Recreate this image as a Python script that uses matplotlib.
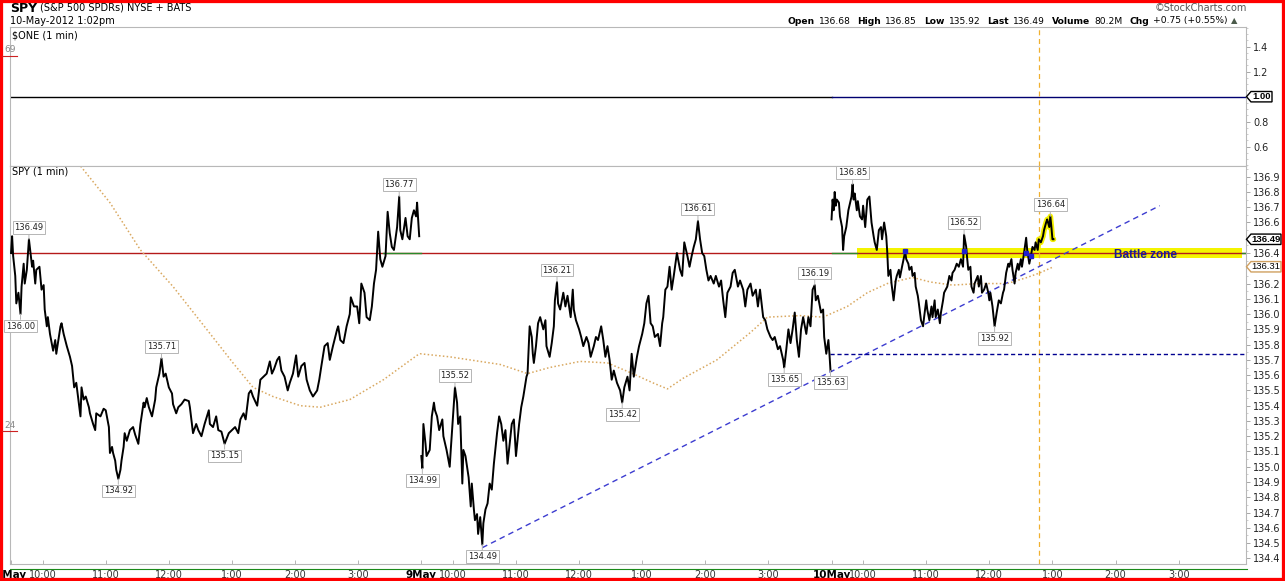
import matplotlib
matplotlib.use("Agg")
import matplotlib.pyplot as plt
from matplotlib.patches import Rectangle, Polygon
from matplotlib.lines import Line2D
from matplotlib.ticker import MultipleLocator

W, H = 1285, 581
DAY_LEN = 390  # 9:30 -> 4:00, one point per minute

# SPY 1-min closes: (minutes after 9:30, price)
may8 = [(0, 136.40), (1, 136.51), (2, 136.38), (4, 136.25), (5, 136.07), (7, 136.14), (9, 136.00),
        (10, 136.18), (12, 136.33), (13, 136.20), (15, 136.29), (17, 136.49), (20, 136.31), (21, 136.35),
        (23, 136.20), (24, 136.29), (27, 136.31), (29, 136.16), (31, 136.19), (32, 136.03), (34, 135.92),
        (35, 135.98), (37, 135.87), (40, 135.76), (42, 135.83), (43, 135.74), (47, 135.92), (48, 135.94),
        (50, 135.87), (53, 135.79), (56, 135.72), (58, 135.66), (60, 135.52), (62, 135.55), (64, 135.44),
        (66, 135.33), (67, 135.52), (69, 135.44), (71, 135.46), (74, 135.39), (75, 135.35), (78, 135.28),
        (80, 135.24), (81, 135.35), (85, 135.33), (88, 135.38), (90, 135.37), (93, 135.26), (94, 135.09),
        (96, 135.13), (97, 135.09), (99, 135.04), (100, 134.98), (102, 134.92), (104, 134.98), (105, 135.04),
        (107, 135.13), (108, 135.22), (110, 135.17), (113, 135.24), (116, 135.26), (118, 135.21), (121, 135.15),
        (123, 135.28), (126, 135.42), (127, 135.39), (129, 135.45), (131, 135.39), (134, 135.33), (137, 135.44),
        (138, 135.52), (141, 135.61), (143, 135.71), (145, 135.59), (147, 135.61), (150, 135.52), (153, 135.48),
        (154, 135.41), (157, 135.35), (159, 135.39), (162, 135.41), (165, 135.44), (169, 135.43), (170, 135.39),
        (173, 135.22), (176, 135.28), (178, 135.24), (181, 135.20), (184, 135.28), (188, 135.37), (189, 135.28),
        (192, 135.26), (195, 135.33), (197, 135.24), (200, 135.23), (203, 135.15), (207, 135.22), (210, 135.24),
        (213, 135.26), (216, 135.22), (218, 135.31), (221, 135.35), (223, 135.31), (226, 135.48), (228, 135.50),
        (230, 135.46), (234, 135.40), (237, 135.57), (240, 135.59), (243, 135.61), (246, 135.69), (248, 135.61),
        (250, 135.64), (253, 135.70), (255, 135.72), (257, 135.63), (260, 135.59), (263, 135.50), (265, 135.55),
        (268, 135.61), (271, 135.73), (273, 135.59), (276, 135.66), (279, 135.68), (281, 135.57), (284, 135.50),
        (287, 135.46), (291, 135.50), (293, 135.57), (295, 135.66), (298, 135.79), (301, 135.81), (303, 135.70),
        (306, 135.79), (310, 135.90), (311, 135.92), (313, 135.83), (316, 135.81), (319, 135.92), (322, 136.00),
        (323, 136.11), (326, 136.05), (329, 136.05), (331, 135.94), (333, 136.20), (336, 136.14), (338, 135.98),
        (341, 135.96), (343, 136.05), (345, 136.20), (347, 136.29), (349, 136.54), (351, 136.36), (353, 136.31),
        (356, 136.38), (358, 136.67), (360, 136.53), (362, 136.44), (364, 136.42), (367, 136.57), (369, 136.77),
        (370, 136.55), (372, 136.49), (375, 136.63), (377, 136.51), (379, 136.49), (381, 136.63), (383, 136.68),
        (385, 136.64), (386, 136.73), (388, 136.51)]

may9 = [(0, 135.07), (1, 134.99), (2, 135.28), (4, 135.15), (5, 135.07), (8, 135.11), (10, 135.33), (12, 135.42),
        (13, 135.37), (15, 135.33), (17, 135.24), (20, 135.31), (21, 135.20), (24, 135.11), (27, 135.00),
        (28, 135.11), (30, 135.31), (32, 135.52), (34, 135.42), (35, 135.28), (37, 135.33), (39, 134.89),
        (40, 135.11), (42, 135.07), (45, 134.93), (47, 134.74), (48, 134.89), (50, 134.72), (51, 134.65),
        (53, 134.69), (54, 134.56), (56, 134.67), (58, 134.49), (59, 134.63), (61, 134.72), (63, 134.76),
        (65, 134.89), (67, 134.85), (69, 135.02), (72, 135.22), (74, 135.33), (76, 135.28), (78, 135.17),
        (80, 135.24), (82, 135.02), (84, 135.15), (86, 135.28), (88, 135.31), (90, 135.07), (93, 135.28),
        (95, 135.39), (97, 135.46), (100, 135.59), (101, 135.61), (103, 135.92), (105, 135.85), (106, 135.74),
        (107, 135.68), (109, 135.79), (111, 135.94), (113, 135.98), (116, 135.90), (118, 135.96), (119, 135.79),
        (122, 135.72), (124, 135.81), (126, 135.92), (127, 136.09), (129, 136.21), (130, 136.07), (132, 136.03),
        (135, 136.14), (137, 136.05), (139, 136.12), (142, 135.98), (144, 136.16), (145, 136.03), (147, 135.96),
        (150, 135.90), (152, 135.85), (154, 135.79), (157, 135.85), (159, 135.81), (161, 135.72), (164, 135.79),
        (166, 135.85), (168, 135.83), (171, 135.92), (173, 135.83), (175, 135.72), (177, 135.79), (179, 135.70),
        (181, 135.57), (183, 135.63), (186, 135.55), (189, 135.50), (191, 135.42), (193, 135.52), (196, 135.59),
        (198, 135.50), (200, 135.74), (202, 135.59), (205, 135.72), (207, 135.79), (210, 135.87), (212, 135.94),
        (214, 136.07), (216, 136.12), (218, 135.94), (220, 135.92), (222, 135.85), (225, 135.87), (227, 135.79),
        (229, 135.94), (230, 135.98), (232, 136.16), (234, 136.18), (236, 136.31), (238, 136.16), (240, 136.25),
        (243, 136.40), (246, 136.29), (248, 136.25), (250, 136.47), (253, 136.38), (255, 136.31), (257, 136.38),
        (259, 136.44), (261, 136.49), (263, 136.61), (265, 136.49), (267, 136.40), (269, 136.38), (271, 136.29),
        (273, 136.22), (275, 136.25), (278, 136.20), (280, 136.25), (283, 136.18), (285, 136.22), (287, 136.09),
        (289, 135.98), (291, 136.14), (294, 136.18), (296, 136.27), (298, 136.29), (301, 136.18), (303, 136.22),
        (306, 136.16), (308, 136.05), (310, 136.16), (313, 136.20), (315, 136.12), (318, 136.16), (320, 136.05),
        (322, 136.16), (325, 135.98), (327, 135.96), (329, 135.90), (332, 135.85), (334, 135.83), (336, 135.85),
        (339, 135.77), (341, 135.79), (344, 135.70), (345, 135.65), (347, 135.77), (349, 135.90), (351, 135.81),
        (353, 135.90), (355, 136.01), (357, 135.83), (359, 135.72), (361, 135.90), (363, 135.98), (366, 135.87),
        (368, 135.98), (370, 135.92), (372, 136.16), (374, 136.19), (375, 136.09), (377, 136.12), (380, 136.01),
        (382, 136.03), (383, 135.85), (385, 135.74), (387, 135.83), (388, 135.74), (389, 135.63)]

may10 = [(0, 136.62), (1, 136.75), (2, 136.68), (3, 136.80), (4, 136.71), (5, 136.75), (7, 136.73), (8, 136.64),
         (10, 136.57), (11, 136.42), (12, 136.51), (14, 136.57), (16, 136.68), (17, 136.71), (19, 136.77),
         (20, 136.85), (21, 136.75), (22, 136.79), (24, 136.68), (25, 136.74), (27, 136.64), (29, 136.62),
         (30, 136.71), (32, 136.57), (34, 136.75), (36, 136.77), (38, 136.60), (40, 136.51), (41, 136.47),
         (43, 136.42), (45, 136.55), (47, 136.57), (48, 136.49), (50, 136.60), (52, 136.51), (53, 136.40),
         (54, 136.25), (56, 136.29), (57, 136.20), (59, 136.09), (61, 136.22), (62, 136.25), (64, 136.29),
         (65, 136.24), (67, 136.31), (70, 136.41), (71, 136.36), (73, 136.33), (74, 136.29), (76, 136.31),
         (77, 136.25), (79, 136.27), (80, 136.18), (82, 136.12), (83, 136.07), (85, 135.96), (87, 135.92),
         (88, 135.98), (90, 136.09), (91, 136.03), (93, 135.96), (95, 136.05), (96, 135.98), (98, 136.09),
         (99, 135.98), (101, 136.03), (103, 135.94), (104, 136.01), (106, 136.09), (107, 136.14), (110, 136.18),
         (112, 136.25), (114, 136.22), (115, 136.27), (117, 136.29), (119, 136.33), (121, 136.31), (123, 136.36),
         (125, 136.31), (126, 136.52), (128, 136.44), (129, 136.36), (130, 136.29), (132, 136.31), (133, 136.18),
         (135, 136.14), (136, 136.20), (139, 136.25), (140, 136.18), (142, 136.25), (143, 136.14), (145, 136.16),
         (147, 136.20), (149, 136.14), (150, 136.09), (151, 136.14), (153, 136.05), (155, 135.92), (157, 136.01),
         (158, 136.05), (159, 136.09), (161, 136.07), (163, 136.14), (164, 136.16), (166, 136.27), (168, 136.33),
         (169, 136.31), (171, 136.36), (172, 136.29), (174, 136.20), (175, 136.27), (177, 136.33), (178, 136.29),
         (180, 136.36), (181, 136.31), (183, 136.40), (185, 136.50), (186, 136.42), (188, 136.33), (190, 136.40),
         (191, 136.44), (193, 136.42), (194, 136.47), (196, 136.42), (197, 136.49), (199, 136.47), (201, 136.51),
         (202, 136.55), (204, 136.60), (205, 136.62), (207, 136.57), (208, 136.64), (209, 136.57), (210, 136.49),
         (211, 136.49)]

sessions = [may8, may9, may10]
day_labels = ["8May", "9May", "10May"]
hour_minutes = [30, 90, 150, 210, 270, 330]
hour_labels = ["10:00", "11:00", "12:00", "1:00", "2:00", "3:00"]

# moving average (dotted orange), x = minutes since 8 May 9:30 (390 per session)
ma_x = [56, 66, 94, 123, 154, 186, 211, 230, 249, 275, 294, 322, 354, 386, 389, 417, 465, 491, 512, 541,
        567, 591, 610, 624, 639, 671, 703, 719, 750, 772, 795, 814, 833, 857, 874, 895, 921, 947, 966, 978, 991]
ma_y = [137.04, 136.97, 136.73, 136.42, 136.18, 135.90, 135.68, 135.52, 135.46, 135.40, 135.39, 135.44, 135.57,
        135.73, 135.74, 135.72, 135.67, 135.61, 135.65, 135.69, 135.68, 135.61, 135.55, 135.51, 135.58, 135.70,
        135.88, 135.98, 135.99, 135.98, 136.05, 136.14, 136.20, 136.24, 136.21, 136.19, 136.20, 136.20, 136.24,
        136.27, 136.31]

# swing labels: (session, minute, value, above)
swings = [(0, 17, 136.49, True), (0, 9, 136.00, False), (0, 143, 135.71, True), (0, 102, 134.92, False),
          (0, 203, 135.15, False), (0, 369, 136.77, True),
          (1, 1, 134.99, False), (1, 32, 135.52, True), (1, 58, 134.49, False), (1, 129, 136.21, True),
          (1, 191, 135.42, False), (1, 263, 136.61, True), (1, 345, 135.65, False), (1, 374, 136.19, True),
          (1, 389, 135.63, False),
          (2, 20, 136.85, True), (2, 126, 136.52, True), (2, 155, 135.92, False), (2, 208, 136.64, True)]

# drawn annotations
resistance = 136.40
battle_zone = (136.37, 136.435)
support = 135.74
trend_start = (448, 134.47)
trend_end = (1092, 136.71)
marker_line_x = 977
one_value = 1.00
last_price = 136.49
last_ma = 136.31

main_ticks = [134.4, 134.5, 134.6, 134.7, 134.8, 134.9, 135.0, 135.1, 135.2, 135.3, 135.4, 135.5,
              135.6, 135.7, 135.8, 135.9, 136.0, 136.1, 136.2, 136.4, 136.6, 136.7, 136.8, 136.9]
top_ticks = [0.6, 0.8, 1.2, 1.4]

header_right = [("Open", True), ("136.68", False), ("High", True), ("136.85", False), ("Low", True),
                ("135.92", False), ("Last", True), ("136.49", False), ("Volume", True), ("80.2M", False),
                ("Chg", True), ("+0.75 (+0.55%)", False)]


def fx(px):
    return px / W


def fy(py):
    return 1 - py / H


fig = plt.figure(figsize=(W / 100, H / 100), dpi=100)
fig.patch.set_facecolor("white")

XL, XR = 10, 1246
ax_top = fig.add_axes([fx(XL), fy(166), (XR - XL) / W, (166 - 27) / H])
ax = fig.add_axes([fx(XL), fy(564), (XR - XL) / W, (564 - 166) / H])
AXW = XR - XL

for a in (ax_top, ax):
    a.set_xlim(-1, 1174)
    for s in a.spines.values():
        s.set_color("#b8b8b8")
        s.set_linewidth(0.8)
    a.yaxis.tick_right()
    a.tick_params(axis="y", which="major", direction="out", length=3, width=0.6, color="#999999",
                  labelsize=7, pad=2, labelcolor="#222222")
    a.tick_params(axis="y", which="minor", direction="out", length=1.5, width=0.5, color="#bbbbbb")

ax_top.set_ylim(0.4456, 1.5576)
ax.set_ylim(134.363, 136.970)
ax_top.set_yticks(top_ticks)
ax_top.set_yticklabels([f"{t:.1f}" for t in top_ticks])
ax_top.yaxis.set_minor_locator(MultipleLocator(0.05))
ax.set_yticks(main_ticks)
ax.set_yticklabels([f"{t:.1f}" for t in main_ticks])
ax.yaxis.set_minor_locator(MultipleLocator(0.05))
ax_top.set_xticks([])

# x axis: session starts + hours
xt, xl = [], []
for d, lab in enumerate(day_labels):
    xt.append(d * DAY_LEN)
    xl.append(lab)
    for hm, hl in zip(hour_minutes, hour_labels):
        xt.append(d * DAY_LEN + hm)
        xl.append(hl)
ax.set_xticks(xt)
ax.set_xticklabels(xl)
ax.tick_params(axis="x", direction="in", length=3, width=0.6, color="#aaaaaa", labelsize=7, pad=4,
               labelcolor="#333333")
for t in ax.get_xticklabels():
    if t.get_text().endswith("May"):
        t.set_fontweight("bold")
        t.set_color("black")
        t.set_fontsize(7.5)

# ---- top panel: $ONE ----
ax_top.plot([-1, 2 * DAY_LEN], [one_value, one_value], color="black", lw=1.0)
ax_top.plot([2 * DAY_LEN, 1174], [one_value, one_value], color="#000070", lw=1.0)
ax_top.axvline(marker_line_x, color="#f0b030", lw=0.9, ls=(0, (4, 3)))
ax_top.text(2 / AXW, 0.94, "$ONE (1 min)", transform=ax_top.transAxes, fontsize=7, va="center", ha="left")

# ---- main panel ----
ax.fill_between([804, 1170], battle_zone[0], battle_zone[1], color="#f4f400", lw=0, zorder=1)
ax.plot([-1, 1174], [resistance, resistance], color="#b51a1a", lw=1.0, zorder=2)
ax.plot([354, 390], [resistance, resistance], color="#2a8a2a", lw=1.0, zorder=2)
ax.plot([780, 804], [resistance, resistance], color="#2a8a2a", lw=1.0, zorder=2)
ax.plot([1170, 1174], [resistance, resistance], color="#2a8a2a", lw=1.0, zorder=2)

ax.plot(ma_x, ma_y, color="#d9a860", lw=1.1, ls=(0, (1, 1.5)), zorder=2)
ax.plot([trend_start[0], trend_end[0]], [trend_start[1], trend_end[1]], color="#3c3cd0", lw=1.0,
        ls=(0, (4, 3)), zorder=3)
ax.plot([2 * DAY_LEN - 1, 1174], [support, support], color="#000090", lw=1.0, ls=(0, (3, 2)), zorder=3)
ax.axvline(marker_line_x, color="#f0b030", lw=0.9, ls=(0, (4, 3)), zorder=2)

for d, sess in enumerate(sessions):
    xs = [d * DAY_LEN + m for m, _ in sess]
    ys = [p for _, p in sess]
    if d == 2:
        hx = [x for x in xs if x >= 2 * DAY_LEN + 195]
        hy = ys[len(xs) - len(hx):]
        ax.plot(hx, hy, color="#f4f000", lw=4, solid_capstyle="round", zorder=3)
    ax.plot(xs, ys, color="black", lw=1.4, zorder=4)

# blue touch marks on the resistance line
touch = [(2, 70), (2, 126), (2, 185), (2, 190)]
ax.plot([d * DAY_LEN + m for d, m in touch], [resistance + 0.01, resistance + 0.01, resistance, resistance - 0.02],
        ls="none", marker="s", ms=3, color="#2020d0", zorder=5)

for d, m, v, up in swings:
    ax.annotate(f"{v:.2f}", xy=(d * DAY_LEN + m, v), xytext=(0, 12 if up else -12),
                textcoords="offset pixels", ha="center", va="center", fontsize=6, color="#222222",
                bbox=dict(boxstyle="square,pad=0.22", fc="white", ec="#b5b5b5", lw=0.7),
                arrowprops=dict(arrowstyle="-", color="#b5b5b5", lw=0.7, shrinkA=0, shrinkB=0),
                zorder=6, annotation_clip=False)

ax.text(1078, 136.385, "Battle zone", fontsize=8.5, fontweight="bold", color="#1a1a9a",
        family="Liberation Sans", ha="center", va="center", zorder=6)
ax.text(2 / AXW, 0.985, "SPY (1 min)", transform=ax.transAxes, fontsize=7, va="center", ha="left")


# value tags on the right axis
def tag(a, y, text, px_per_unit, width_px, ec, bold):
    h = 5.2 / px_per_unit
    u = 1 / AXW
    pts = [(0.5 * u + 1, y), (1 + 5 * u, y + h), (1 + width_px * u, y + h), (1 + width_px * u, y - h),
           (1 + 5 * u, y - h)]
    a.add_patch(Polygon(pts, closed=True, transform=a.get_yaxis_transform(), fc="white", ec=ec, lw=1.0,
                        clip_on=False, zorder=7))
    a.text(1 + (width_px + 5) / 2 * u, y, text, transform=a.get_yaxis_transform(), ha="center", va="center",
           fontsize=6.8, fontweight="bold" if bold else "normal", family="Liberation Sans",
           color="black", zorder=8, clip_on=False)


tag(ax_top, one_value, f"{one_value:.2f}", 125.0, 26, "black", True)
tag(ax, last_price, f"{last_price:.2f}", 152.5, 35, "black", True)
tag(ax, last_ma, f"{last_ma:.2f}", 152.5, 35, "#d0a060", False)

# ---- header ----
renderer = fig.canvas.get_renderer()


def run(parts, x_px, y_px, right=False):
    objs, gaps = [], []
    for s, fs, bold, col, gap in parts:
        objs.append(fig.text(0, fy(y_px), s, fontsize=fs, fontweight="bold" if bold else "normal",
                             color=col, va="center", ha="left"))
        gaps.append(gap)
    widths = [o.get_window_extent(renderer).width for o in objs]
    total = sum(widths) + sum(gaps[:-1])
    x = x_px - total if right else x_px
    for o, w, g in zip(objs, widths, gaps):
        o.set_x(fx(x))
        x += w + g


run([("SPY", 9, True, "black", 3), ("(S&P 500 SPDRs) NYSE + BATS", 7, False, "black", 0)], 10, 8)
fig.text(fx(10), fy(21), "10-May-2012 1:02pm", fontsize=7, va="center", ha="left")
fig.text(fx(1247), fy(8), "\u00a9StockCharts.com", fontsize=7, va="center", ha="right", color="#555555")
parts = [(s, 6.6, b, "black", 4 if b else 7) for s, b in header_right]
parts[-1] = (parts[-1][0], 6.6, False, "black", 3)
parts.append(("\u25b2", 6, False, "#4a5a4a", 0))
run(parts, 1237, 21, right=True)

# clipped leftover labels at the left edge
for py, s in [(50, "69"), (425, "24")]:
    fig.text(fx(4), fy(py), s, fontsize=6.5, color="#888888", va="center", ha="left")
    fig.add_artist(Line2D([fx(2), fx(17)], [fy(py + 6)] * 2, color="#cc2222", lw=0.8))

# x axis baseline and red frame
fig.add_artist(Line2D([fx(XL), fx(XR + 1)], [fy(569)] * 2, color="#1a8a1a", lw=0.8))
fig.add_artist(Rectangle((0, 0), 1, 1, transform=fig.transFigure, fill=False, ec="#ff0000", lw=4.5))

fig.savefig("out.png", dpi=100, facecolor="white")
